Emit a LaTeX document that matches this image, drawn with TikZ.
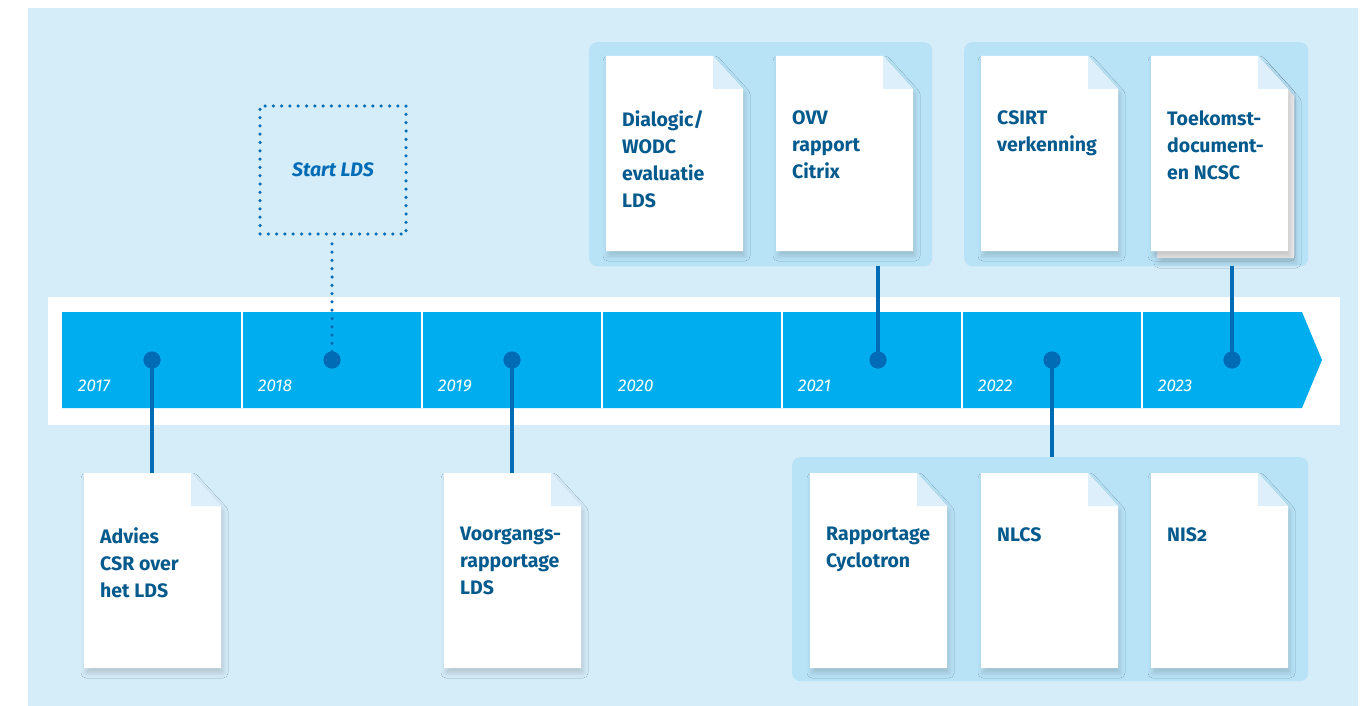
\documentclass[tikz,border=0pt]{standalone}
\usepackage{fontspec}
\setmainfont{Fira Sans}
\usetikzlibrary{shadows.blur}
\definecolor{bgc}{RGB}{213,236,249}
\definecolor{grpc}{RGB}{184,227,247}
\definecolor{foldc}{RGB}{220,239,250}
\definecolor{barc}{RGB}{0,174,239}
\definecolor{dotc}{RGB}{1,108,182}
\definecolor{txtc}{RGB}{4,90,141}
\definecolor{backc}{RGB}{234,234,234}
\tikzset{
  docbox/.style={rectangle, minimum width=137pt, minimum height=195pt, inner sep=0pt},
  doctext/.style={align=left, inner sep=0pt, text=txtc, font=\fontsize{19.5}{27}\selectfont\bfseries},
  grpbox/.style={rectangle, rounded corners=8pt, fill=grpc, inner sep=0pt},
  dotn/.style={circle, fill=dotc, minimum size=17pt, inner sep=0pt},
  conn/.style={draw=dotc, line width=4pt},
  dotconn/.style={draw=dotc, line width=3.5pt, line cap=round, dash pattern=on 0pt off 8.3pt},
  yearlbl/.style={text=white, inner sep=0pt, font=\fontsize{17}{20}\selectfont\itshape},
  sheetshadow/.style={blur shadow={shadow xshift=2pt, shadow yshift=-5pt, shadow blur radius=5pt, shadow opacity=16}}
}
\newcommand\docsheet[4]{%
  \path[fill=white, sheetshadow] (#2,#3) -- ++(107,0) -- ++(30,33) -- ++(0,162) -- ++(-137,0) -- cycle;
  \fill[foldc] (#2+107,#3) -- ++(0,33) -- ++(30,0) -- cycle;
  \node[docbox, anchor=north west] (#1) at (#2,#3) {};
  \node[doctext, anchor=north west] (#1t) at (#2+16,#3+54) {#4};
}
\begin{document}
\begin{tikzpicture}[x=1pt,y=-1pt]
\useasboundingbox (0,0) rectangle (1370,706);
\fill[white] (0,0) rectangle (1370,706);
\fill[bgc] (28,8) rectangle (1358,706);
% white band
\fill[white] (48,297) rectangle (1340,425);
% timeline bar
\fill[barc] (62,312) -- (1302,312) -- (1322,360) -- (1302,408) -- (62,408) -- cycle;
\foreach \xx in {242,422,602,782,962,1142}{
  \draw[white, line width=1.3pt] (\xx,312) -- (\xx,408);
}
\foreach \yr [count=\i from 0] in {2017,2018,2019,2020,2021,2022,2023}{
  \node[yearlbl, anchor=base west] (y\yr) at (78+180*\i,391) {\yr};
}
% groups
\node[grpbox, minimum width=343pt, minimum height=224pt, anchor=north west] (g1) at (589,42) {};
\node[grpbox, minimum width=344pt, minimum height=224pt, anchor=north west] (g2) at (964,42) {};
\node[grpbox, minimum width=516pt, minimum height=224pt, anchor=north west] (g3) at (792,457) {};
% start LDS box
\node[dotconn, draw=dotc, minimum width=146pt, minimum height=128pt, inner sep=0pt, text=dotc,
      font=\fontsize{19.5}{24}\selectfont\bfseries\itshape] (start) at (333,170) {Start LDS};
% documents
\docsheet{dialogic}{606}{56}{Dialogic/\\WODC\\evaluatie\\LDS}
\docsheet{ovv}{776}{56}{OVV\\rapport\\Citrix}
\docsheet{csirt}{981}{56}{CSIRT\\verkenning}
\path[fill=backc, sheetshadow] (1157,63) -- ++(107,0) -- ++(30,33) -- ++(0,162) -- ++(-137,0) -- cycle;
\docsheet{toek}{1151}{56}{Toekomst-\\document-\\en NCSC}
\docsheet{advies}{84}{473}{Advies\\CSR over\\het LDS}
\docsheet{voor}{444}{473}{Voorgangs-\\rapportage\\LDS}
\docsheet{cyclo}{810}{473}{Rapportage\\Cyclotron}
\docsheet{nlcs}{981}{473}{NLCS}
\docsheet{nis}{1151}{473}{NIS{\addfontfeature{Numbers=OldStyle}2}}
% dots
\node[dotn] (d17) at (152,360) {};
\node[dotn] (d18) at (332,360) {};
\node[dotn] (d19) at (512,360) {};
\node[dotn] (d21) at (878,360) {};
\node[dotn] (d22) at (1052,360) {};
\node[dotn] (d23) at (1232,360) {};
% connectors
\draw[conn] (d17.center) -- (d17 |- advies.north);
\draw[conn] (d19.center) -- (d19 |- voor.north);
\draw[conn] (d21.center) -- (d21 |- g1.south);
\draw[conn] (d22.center) -- (d22 |- g3.north);
\draw[conn] (d23.center) -- (d23 |- g2.south);
\draw[dotconn] (d18.center) -- (d18 |- start.south);
\node[dotn] at (d17) {};
\node[dotn] at (d18) {};
\node[dotn] at (d19) {};
\node[dotn] at (d21) {};
\node[dotn] at (d22) {};
\node[dotn] at (d23) {};
\end{tikzpicture}
\end{document}
